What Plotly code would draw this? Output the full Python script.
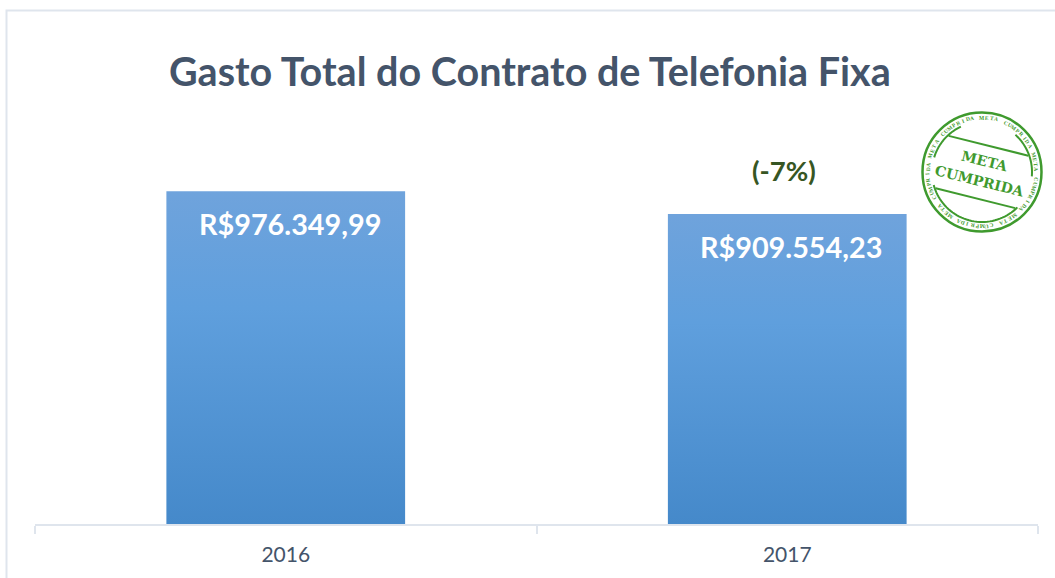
import math
import plotly.graph_objects as go

categories = ["2016", "2017"]
values = [976349.99, 909554.23]
value_labels = ["R$976.349,99", "R$909.554,23"]
delta_label = "(-7%)"
title_text = "Gasto Total do Contrato de Telefonia Fixa"
stamp_top = "META"
stamp_bottom = "CUMPRIDA"
stamp_ring = "META CUMPRIDA "

W, H = 1055, 578
ML, MR, MT, MB = 35, 17, 115, 54
PW, PH = W - ML - MR, H - MT - MB
SLATE = "#44546a"
STAMP = "#3f9a2e"
RULE = "#dfe5ed"


def px(x):
    return (x - ML) / PW


def py(y):
    return 1 - (y - MT) / PH


def label(x, y, text, size, color, family="Lato", angle=0):
    return dict(x=px(x), y=py(y), xref="paper", yref="paper", xanchor="center", yanchor="middle",
                text=text, textangle=angle, showarrow=False,
                font=dict(family=family, size=size, color=color))


fig = go.Figure(go.Bar(
    x=categories, y=values, width=0.476,
    marker=dict(color="#5b9bd5", line=dict(width=0)),
    hoverinfo="x+y",
))

shapes = [dict(type="path", xref="paper", yref="paper", layer="below",
               path=f"M {px(6.5)} {py(590)} L {px(6.5)} {py(10.5)} L {px(1060)} {py(10.5)}",
               line=dict(color=RULE, width=2))]
ann = []

for i, (v, t) in enumerate(zip(values, value_labels)):
    ann.append(dict(x=i, y=v, xref="x", yref="y", xanchor="center", yanchor="middle",
                    text=f"<b>{t}</b>", yshift=-33, xshift=4, showarrow=False,
                    font=dict(family="Lato", size=28.8, color="white")))
ann.append(dict(x=1, y=values[1], xref="x", yref="y", xanchor="center", yanchor="middle",
                text=f"<b>{delta_label}</b>", yshift=43, xshift=-3, showarrow=False,
                font=dict(family="Lato", size=27.5, color="#375623")))

# Stamp, placed in pixels on the paper
CX, CY = 982, 172
ROT = math.radians(14)


def circle(r, width):
    return dict(type="circle", xref="paper", yref="paper",
                x0=px(CX - r), x1=px(CX + r), y0=py(CY + r), y1=py(CY - r),
                fillcolor="rgba(0,0,0,0)", line=dict(color=STAMP, width=width))


def local(u, v):
    return (CX + u * math.cos(ROT) - v * math.sin(ROT),
            CY + u * math.sin(ROT) + v * math.cos(ROT))


def arc(r, a0, a1, n=40):
    pts = []
    for i in range(n + 1):
        a = math.radians(a0 + (a1 - a0) * i / n)
        pts.append((CX + r * math.cos(a), CY + r * math.sin(a)))
    return "M " + " L ".join(f"{px(x):.5f} {py(y):.5f}" for x, y in pts)


shapes.append(circle(59.5, 2.5))
for a0, a1 in [(-48, 5), (45, 165), (197, 245)]:
    shapes.append(dict(type="path", xref="paper", yref="paper", path=arc(50, a0, a1),
                       line=dict(color=STAMP, width=2)))
for v, (u0, u1) in [(-27, (-41, 41)), (27, (-41, 41))]:
    x0, y0 = local(u0, v)
    x1, y1 = local(u1, v)
    shapes.append(dict(type="line", xref="paper", yref="paper", x0=px(x0), y0=py(y0),
                       x1=px(x1), y1=py(y1), line=dict(color=STAMP, width=2)))

for txt, v, size in [(stamp_top, -11, 14), (stamp_bottom, 9, 14)]:
    x, y = local(0, v)
    ann.append(label(x, y, f"<b>{txt}</b>", size, STAMP, "DejaVu Serif", 14))

ring = (stamp_ring * 6)[:70]
for i, ch in enumerate(ring):
    if ch == " ":
        continue
    a = 2 * math.pi * i / len(ring)
    x = CX + 54.5 * math.sin(a)
    y = CY - 54.5 * math.cos(a)
    ann.append(label(x, y, f"<b>{ch}</b>", 5.5, STAMP, "Liberation Serif", math.degrees(a)))

ann.append(label(530, 71, f"<b>{title_text}</b>", 39.5, SLATE))

fig.update_layout(
    width=W, height=H, autosize=False,
    margin=dict(l=ML, r=MR, t=MT, b=MB, pad=0),
    paper_bgcolor="white", plot_bgcolor="white",
    showlegend=False, shapes=shapes, annotations=ann,
    xaxis=dict(type="category", range=[-0.5, 1.5], automargin=False, tickangle=0,
               showline=True, linecolor=RULE, linewidth=2,
               ticks="outside", tickson="boundaries", tickcolor=RULE, ticklen=8, tickwidth=2,
               ticklabelstandoff=11,
               showgrid=False, tickfont=dict(family="Lato", size=21, color=SLATE)),
    yaxis=dict(range=[0, 1200000], visible=False, showgrid=False, automargin=False),
)

post = """
document.documentElement.style.margin = '0';
document.body.style.margin = '0';
document.documentElement.style.overflow = 'hidden';
var gd = document.querySelector('.js-plotly-plot');
var svg = gd.querySelector('svg.main-svg');
var ns = 'http://www.w3.org/2000/svg';
var defs = svg.querySelector('defs') || svg.insertBefore(document.createElementNS(ns,'defs'), svg.firstChild);
var g = document.createElementNS(ns,'linearGradient');
g.setAttribute('id','barfade'); g.setAttribute('x1','0'); g.setAttribute('y1','0'); g.setAttribute('x2','0'); g.setAttribute('y2','1');
[['0','#6fa3dc'],['0.35','#5f9fdd'],['1','#4589ca']].forEach(function(s){
  var e = document.createElementNS(ns,'stop'); e.setAttribute('offset',s[0]); e.setAttribute('stop-color',s[1]); g.appendChild(e);
});
defs.appendChild(g);
gd.querySelectorAll('.bars .point path').forEach(function(p){ p.style.fill = 'url(#barfade)'; });
"""
fig.write_html("out.html", post_script=post, config=dict(displayModeBar=False))
